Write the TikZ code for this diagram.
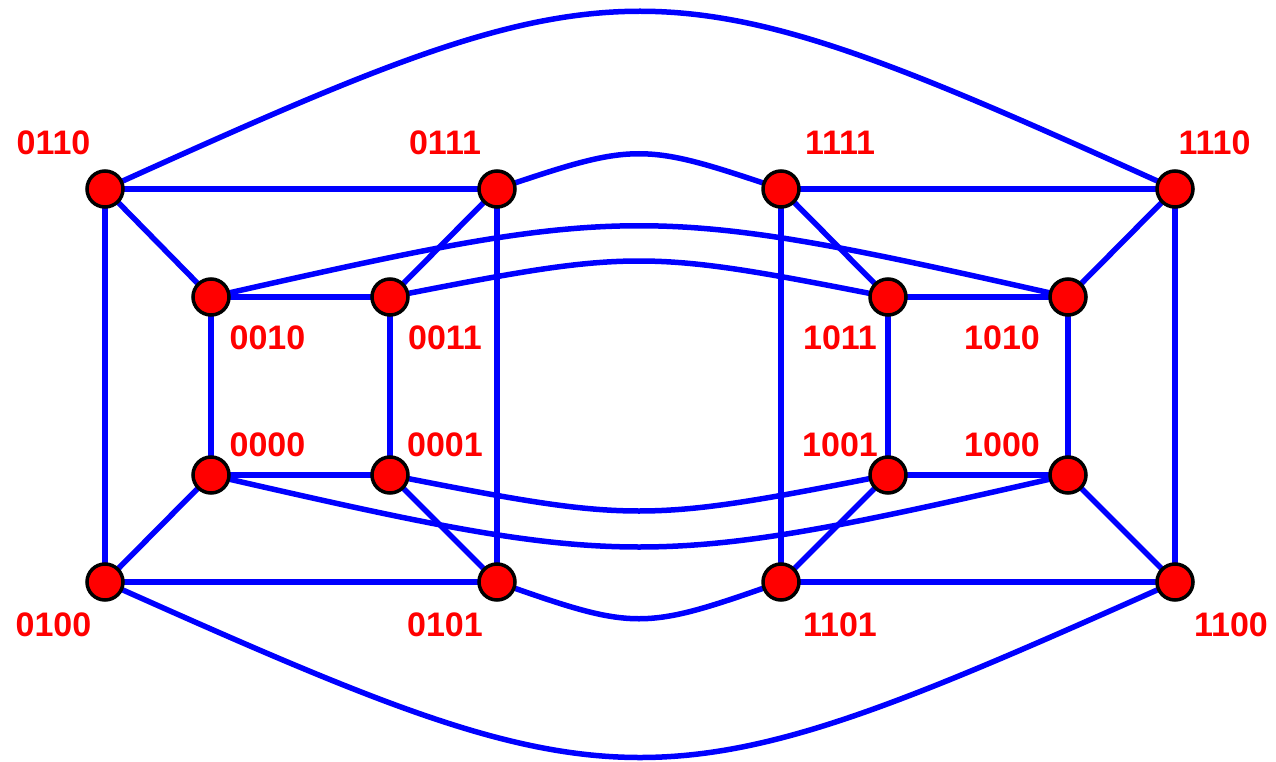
\documentclass[tikz,border=0pt]{standalone}
\usepackage{fontspec}
\setmainfont{Liberation Sans}
\usetikzlibrary{backgrounds}
\definecolor{vred}{RGB}{255,0,0}
\definecolor{eblue}{RGB}{0,0,255}
\tikzset{
  vert/.style={circle, draw=black, fill=vred, line width=3.5pt, minimum size=36pt, inner sep=0pt},
  lab/.style={text=vred, font=\fontsize{34}{34}\selectfont\bfseries, inner sep=0pt},
  edge/.style={draw=eblue, line width=5.5pt}
}
\begin{document}
\begin{tikzpicture}[x=1pt,y=-1pt]
\useasboundingbox (0,0) rectangle (1276,762);
% vertices
\node[vert] (v0110) at (105,189) {};
\node[vert] (v0111) at (497,189) {};
\node[vert] (v1111) at (781,189) {};
\node[vert] (v1110) at (1175,189) {};
\node[vert] (v0010) at (211,297) {};
\node[vert] (v0011) at (390,297) {};
\node[vert] (v1011) at (888,297) {};
\node[vert] (v1010) at (1068,297) {};
\node[vert] (v0000) at (211,475) {};
\node[vert] (v0001) at (390,475) {};
\node[vert] (v1001) at (888,475) {};
\node[vert] (v1000) at (1068,475) {};
\node[vert] (v0100) at (105,582) {};
\node[vert] (v0101) at (497,582) {};
\node[vert] (v1101) at (781,582) {};
\node[vert] (v1100) at (1175,582) {};
% labels
\node[lab] (l0110) at (53.5,142.5) {0110};
\node[lab] (l0111) at (445,142.5) {0111};
\node[lab] (l1111) at (840,142.5) {1111};
\node[lab] (l1110) at (1214.5,142.5) {1110};
\node[lab] (l0010) at (267.5,338) {0010};
\node[lab] (l0011) at (445,338) {0011};
\node[lab] (l1011) at (840,338) {1011};
\node[lab] (l1010) at (1002,338) {1010};
\node[lab] (l0000) at (267.5,445) {0000};
\node[lab] (l0001) at (445,445) {0001};
\node[lab] (l1001) at (840,445) {1001};
\node[lab] (l1000) at (1002,445) {1000};
\node[lab] (l0100) at (53.5,624.5) {0100};
\node[lab] (l0101) at (445,624.5) {0101};
\node[lab] (l1101) at (840,624.5) {1101};
\node[lab] (l1100) at (1231,624.5) {1100};
% edges
\begin{scope}[on background layer]
\draw[edge] (v0110.center) -- (v0111.center);
\draw[edge] (v1111.center) -- (v1110.center);
\draw[edge] (v0010.center) -- (v0011.center);
\draw[edge] (v1011.center) -- (v1010.center);
\draw[edge] (v0000.center) -- (v0001.center);
\draw[edge] (v1001.center) -- (v1000.center);
\draw[edge] (v0100.center) -- (v0101.center);
\draw[edge] (v1101.center) -- (v1100.center);
\draw[edge] (v0110.center) -- (v0100.center);
\draw[edge] (v0111.center) -- (v0101.center);
\draw[edge] (v1111.center) -- (v1101.center);
\draw[edge] (v1110.center) -- (v1100.center);
\draw[edge] (v0010.center) -- (v0000.center);
\draw[edge] (v0011.center) -- (v0001.center);
\draw[edge] (v1011.center) -- (v1001.center);
\draw[edge] (v1010.center) -- (v1000.center);
\draw[edge] (v0110.center) -- (v0010.center);
\draw[edge] (v0111.center) -- (v0011.center);
\draw[edge] (v1111.center) -- (v1011.center);
\draw[edge] (v1110.center) -- (v1010.center);
\draw[edge] (v0100.center) -- (v0000.center);
\draw[edge] (v0101.center) -- (v0001.center);
\draw[edge] (v1101.center) -- (v1001.center);
\draw[edge] (v1100.center) -- (v1000.center);
% curves
\draw[edge] (v0110.center) .. controls (629,-48) and (651,-48) .. (v1110.center);
\draw[edge] (v0111.center) .. controls (636,142) and (642,142) .. (v1111.center);
\draw[edge] (v0010.center) .. controls (630,202) and (648,202) .. (v1010.center);
\draw[edge] (v0011.center) .. controls (634,249) and (644,249) .. (v1011.center);
\draw[edge] (v0001.center) .. controls (634,523) and (644,523) .. (v1001.center);
\draw[edge] (v0000.center) .. controls (630,571) and (648,571) .. (v1000.center);
\draw[edge] (v0101.center) .. controls (636,631) and (642,631) .. (v1101.center);
\draw[edge] (v0100.center) .. controls (629,816) and (651,816) .. (v1100.center);
\end{scope}
\end{tikzpicture}
\end{document}
